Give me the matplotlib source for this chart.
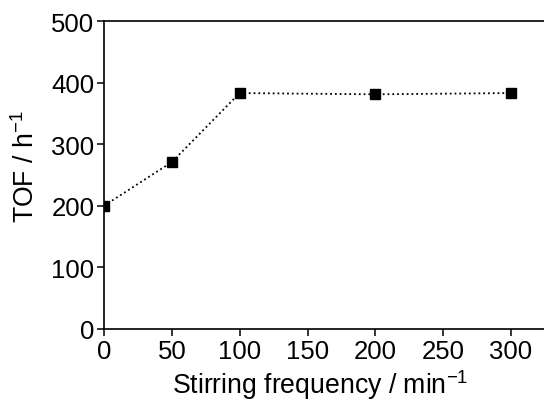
import matplotlib.pyplot as plt

plt.rcParams['font.family'] = ['Liberation Sans', 'DejaVu Sans']

freq = [0, 50, 100, 200, 300]
tof = [200, 271, 383, 381, 383]
xticks = [0, 50, 100, 150, 200, 250, 300]
yticks = [0, 100, 200, 300, 400, 500]

fig = plt.figure(figsize=(5.44, 4.10), dpi=100)
ax = fig.add_axes([104/544, 80/410, 1.0, 308/410])

ax.plot(freq, tof, linestyle=':', color='black', lw=1.3,
        marker='s', markersize=7.5, markerfacecolor='black', markeredgecolor='black')

ax.set_xlim(0, 300 * 544 / (511 - 104))
ax.set_ylim(0, 500)
ax.set_xticks(xticks)
ax.set_yticks(yticks)
ax.spines['right'].set_visible(False)
for s in ax.spines.values():
    s.set_linewidth(1.2)
ax.tick_params(direction='out', length=5, width=1.1, labelsize=18.5, pad=2)

ax.set_xlabel('Stirring frequency / min$^{\\mathregular{-1}}$', fontsize=19.2)
ax.set_ylabel('TOF / h$^{\\mathregular{-1}}$', fontsize=19.2)
ax.xaxis.set_label_coords((320 - 104) / 544, -38 / 308)
ax.yaxis.set_label_coords(-64 / 544, 0.53)

fig.savefig('out.png', dpi=100)
